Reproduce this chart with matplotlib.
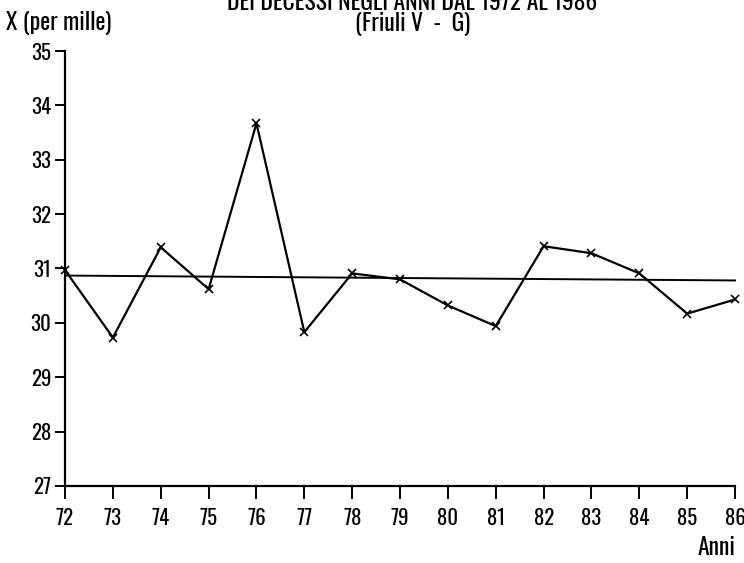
import matplotlib
matplotlib.use("Agg")
import matplotlib.pyplot as plt

# years (last two digits) and death rate per mille
years = [72, 73, 74, 75, 76, 77, 78, 79, 80, 81, 82, 83, 84, 85, 86]
rates = [30.97, 29.73, 31.39, 30.62, 33.67, 29.83, 30.91, 30.80,
         30.32, 29.94, 31.41, 31.28, 30.91, 30.17, 30.43]
# trend line as drawn in the original (start and end values)
trend_years = [72, 86]
trend_values = [30.87, 30.78]
y_ticks = [27, 28, 29, 30, 31, 32, 33, 34, 35]

plt.rcParams["font.family"] = ["Oswald", "DejaVu Sans"]

fig = plt.figure(figsize=(7.44, 5.63), dpi=100)
ax = fig.add_axes([0.0874, 0.1368, 0.9006, 0.7726])

ax.plot(years, rates, color="black", linewidth=1.6, marker="x",
        markersize=6, markeredgewidth=1.2, clip_on=False)
ax.plot(trend_years, trend_values, color="black", linewidth=1.4, clip_on=False)

ax.set_xlim(72, 86)
ax.set_ylim(27, 35)
ax.set_xticks(years)
ax.set_xticklabels([str(y) for y in years])
ax.set_yticks(y_ticks)

for side in ["top", "right"]:
    ax.spines[side].set_visible(False)
for side in ["left", "bottom"]:
    ax.spines[side].set_linewidth(1.6)

ax.tick_params(axis="x", direction="out", length=9, width=1.4,
               labelsize=15, pad=7)
ax.tick_params(axis="y", direction="out", length=7, width=1.4,
               labelsize=15, pad=3)

fig.text(0.554, 0.996, "DEI DECESSI NEGLI ANNI DAL 1972 AL 1986",
         ha="center", va="center", fontsize=17)
fig.text(0.554, 0.957, "(Friuli V  -  G)", ha="center", va="center",
         fontsize=17)
fig.text(0.008, 0.959, "X (per mille)", ha="left", va="center",
         fontsize=17)
fig.text(0.988, 0.027, "Anni", ha="right", va="center", fontsize=17)

fig.savefig("out.png", dpi=100)
